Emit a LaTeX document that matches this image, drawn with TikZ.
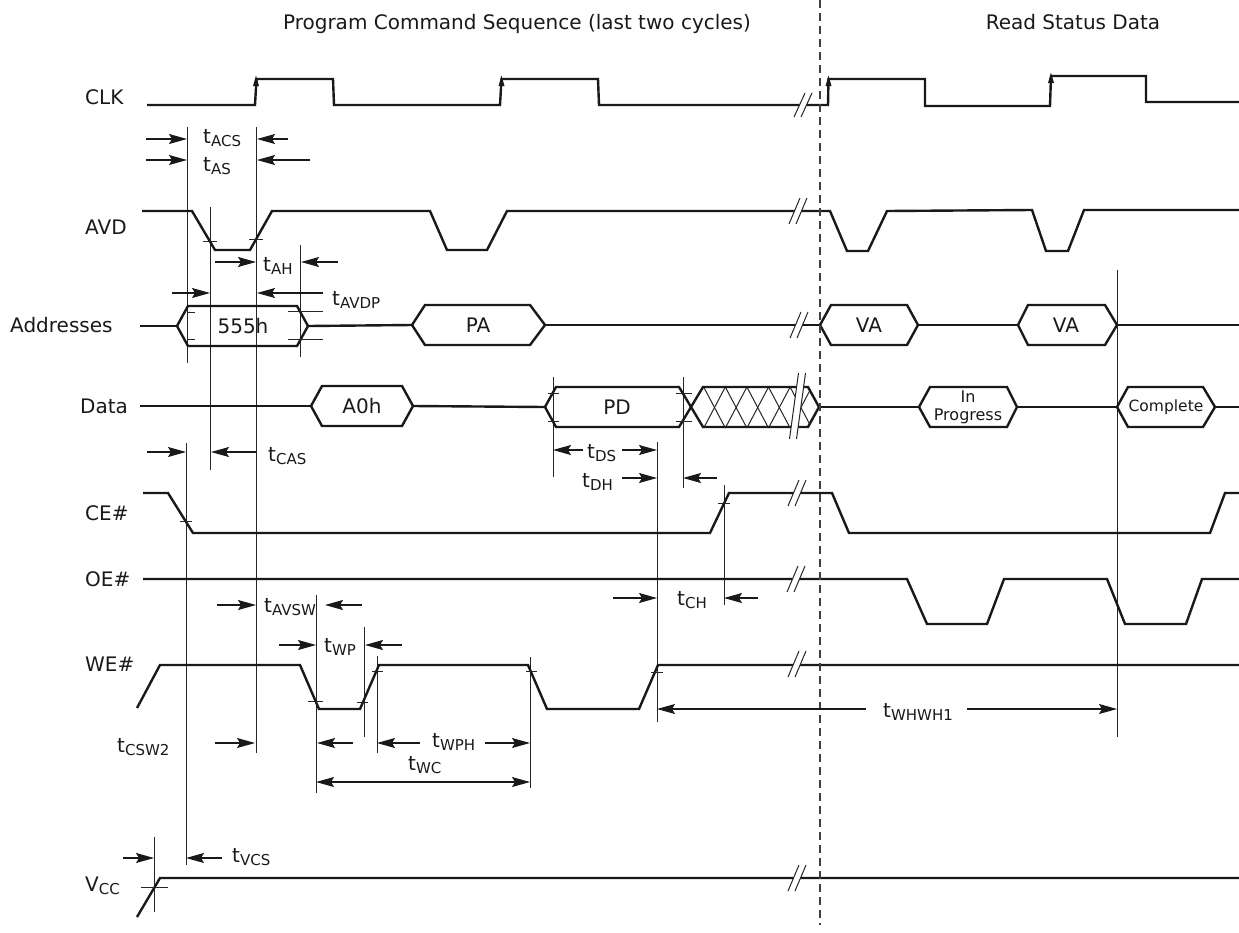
\documentclass[tikz,border=0pt]{standalone}
\usepackage{fontspec}
\setmainfont{DejaVu Sans}
\usetikzlibrary{arrows.meta}
\newcommand{\ts}[1]{t\raisebox{-3pt}{\fontsize{15}{15}\selectfont #1}}
\newcommand{\vcc}{V\raisebox{-3pt}{\fontsize{15}{15}\selectfont CC}}
\newcommand{\hexsig}[6]{\draw[sig] (#1,#5) -- (#2,#5-#6) -- (#3,#5-#6) -- (#4,#5) -- (#3,#5+#6) -- (#2,#5+#6) -- cycle;}
\newcommand{\brkmark}[4]{%
  \fill[white] (#1-3.5-#4,#2+#3) -- (#1-3.5+#4,#2-#3) -- (#1+3.5+#4,#2-#3) -- (#1+3.5-#4,#2+#3) -- cycle;
  \draw[thinln] (#1-3.5-#4,#2+#3) -- (#1-3.5+#4,#2-#3) (#1+3.5-#4,#2+#3) -- (#1+3.5+#4,#2-#3);}
\tikzset{dimtip/.tip={Stealth[length=18pt,width=10pt,inset=3pt]}}
\begin{document}
\begin{tikzpicture}[x=1pt,y=-1pt,
  sig/.style={line width=2.4pt, line join=miter, black!90},
  thinln/.style={line width=1pt, black!85},
  dim/.style={line width=1.1pt, black!90, -dimtip},
  ddim/.style={line width=1.1pt, black!90, dimtip-dimtip},
  every node/.style={inner sep=0pt, text=black!90, font=\fontsize{20}{24}\selectfont},
  lbl/.style={anchor=base west}]
\useasboundingbox (0,0) rectangle (1239,932);

% ---------- thin vertical reference lines ----------
\draw[thinln] (187,127) -- (187,363);
\draw[thinln] (186,443) -- (186,865);
\draw[thinln] (210,207) -- (210,470);
\draw[thinln] (256,127) -- (256,753);
\draw[thinln] (300,245) -- (300,357);
\draw[thinln] (553,377) -- (553,477);
\draw[thinln] (683,377) -- (683,488);
\draw[thinln] (657,442) -- (657,722);
\draw[thinln] (724,485) -- (724,605);
\draw[thinln] (316,595) -- (316,793);
\draw[thinln] (364,627) -- (364,737);
\draw[thinln] (377,656) -- (377,753);
\draw[thinln] (530,657) -- (530,788);
\draw[thinln] (1117,270) -- (1117,737);
\draw[thinln] (154,837) -- (154,912);

% ---------- hatched (don't care) region ----------
\begin{scope}
  \clip (691,407) -- (703,387) -- (808,387) -- (819,407) -- (808,428) -- (703,428) -- cycle;
  \foreach \k in {0,...,5}{
    \pgfmathsetmacro{\c}{714.5+21.6*\k}
    \draw[thinln] (\c-10.8,387) -- (\c+10.8,428);
    \draw[thinln] (\c+10.8,387) -- (\c-10.8,428);
  }
\end{scope}

% ---------- signals ----------
% CLK
\draw[sig] (147,105) -- (255,105) -- (256.5,79) -- (333,79) -- (334,105) -- (500,105) -- (501.5,79) -- (598,79) -- (599,105)
  -- (828,105) -- (828.5,79) -- (925,79) -- (925,106) -- (1050,106) -- (1051,76) -- (1146,76) -- (1146,102) -- (1239,102);
\fill[black!90] (253,86) -- (256,75.5) -- (259,86) -- cycle;
\fill[black!90] (498.5,86) -- (501.5,75.5) -- (504.5,86) -- cycle;
\fill[black!90] (825.5,86) -- (828.5,75.5) -- (831.5,86) -- cycle;
\fill[black!90] (1048,83) -- (1051,72.5) -- (1054,83) -- cycle;
% AVD
\draw[sig] (142,211) -- (192,211) -- (215,250) -- (250,250) -- (272,211) -- (430,211) -- (447,250) -- (487,250) -- (507,211)
  -- (830,211) -- (847,251) -- (868,251) -- (887,211) -- (1032,210) -- (1046,251) -- (1068,251) -- (1084,210) -- (1239,210);
% Addresses
\draw[sig] (140,326) -- (177,326);
\hexsig{177}{188}{297}{308}{326}{20}
\draw[sig] (308,326) -- (412,325);
\hexsig{412}{425}{530}{545}{325}{20}
\draw[sig] (545,325) -- (820,325);
\hexsig{820}{831}{907}{918}{325}{20}
\draw[sig] (918,325) -- (1018,325);
\hexsig{1018}{1028}{1105}{1117}{325}{20}
\draw[sig] (1117,325) -- (1239,325);
% Data
\draw[sig] (140,406) -- (311,406);
\hexsig{311}{322}{402}{413}{406}{20}
\draw[sig] (413,406) -- (545,407);
\hexsig{545}{556}{679}{691}{407}{20}
\hexsig{691}{703}{808}{819}{407}{20}
\draw[sig] (819,407) -- (919,407);
\hexsig{919}{930}{1007}{1017}{407}{20}
\draw[sig] (1017,407) -- (1117,407);
\hexsig{1117}{1128}{1203}{1215}{407}{20}
\draw[sig] (1215,407) -- (1239,407);
% CE#
\draw[sig] (143,493) -- (168,493) -- (193,533) -- (710,533) -- (729,493) -- (832,493) -- (849,533) -- (1210,533) -- (1225,493) -- (1239,493);
% OE#
\draw[sig] (143,579) -- (907,579) -- (927,624) -- (987,624) -- (1004,579) -- (1107,579) -- (1125,624) -- (1186,624) -- (1202,579) -- (1239,579);
% WE#
\draw[sig] (137,708) -- (160,665) -- (300,665) -- (319,709) -- (360,709) -- (379,665) -- (528,665) -- (547,709) -- (639,709) -- (658,665) -- (1239,665);
% VCC
\draw[sig] (137,917) -- (160,878) -- (1239,878);

% ---------- ticks ----------
\draw[thinln] (203,241) -- (217,241) (249,239) -- (263,239);
\draw[thinln] (187,312) -- (195,312) (187,339) -- (195,339) (288,311) -- (323,311) (288,339) -- (323,339);
\draw[thinln] (548,393) -- (559,393) (548,421) -- (559,421) (676,393) -- (692,393) (676,421) -- (692,421);
\draw[thinln] (180,521) -- (192,521) (718,503) -- (730,503);
\draw[thinln] (308,701) -- (323,701) (357,702) -- (368,702) (372,671) -- (383,671) (526,671) -- (537,671) (651,672) -- (663,672);
\draw[thinln] (141,887) -- (168,887);

% ---------- break marks ----------
\brkmark{803}{105}{12}{5.5}
\brkmark{798}{211}{13}{5.5}
\brkmark{799}{325}{13}{5.5}
\brkmark{797.5}{406}{33}{4.5}
\brkmark{797}{493}{13}{5.5}
\brkmark{796}{579}{13}{5.5}
\brkmark{797}{664}{13}{5.5}
\brkmark{797}{878}{13}{5.5}

% ---------- dashed separator ----------
\draw[line width=1.2pt, black!75, dash pattern=on 8pt off 5pt] (820,0) -- (820,925);

% ---------- dimension arrows ----------
\draw[dim] (146,139) -- (187,139);  \draw[dim] (288,139) -- (257,139);
\draw[dim] (146,160) -- (187,160);  \draw[dim] (310,160) -- (257,160);
\draw[dim] (215,262) -- (256,262);  \draw[dim] (338,262) -- (301,262);
\draw[dim] (172,293) -- (210,293);  \draw[dim] (323,293) -- (257,293);
\draw[dim] (147,452) -- (186,452);  \draw[dim] (256,452) -- (211,452);
\draw[dim] (583,450) -- (553,450);  \draw[dim] (622,450) -- (657,450);
\draw[dim] (622,478) -- (657,478);  \draw[dim] (717,478) -- (683,478);
\draw[dim] (613,598) -- (657,598);  \draw[dim] (758,598) -- (724,598);
\draw[dim] (217,605) -- (256,605);  \draw[dim] (362,605) -- (325,605);
\draw[dim] (279,645) -- (316,645);  \draw[dim] (402,645) -- (365,645);
\draw[dim] (215,743) -- (255,743);
\draw[dim] (353,743) -- (317,743);
\draw[dim] (420,743) -- (377,743);  \draw[dim] (485,743) -- (530,743);
\draw[ddim] (316,782) -- (530,782);
\draw[dim] (866,709) -- (657,709);  \draw[dim] (967,709) -- (1117,709);
\draw[dim] (123,858) -- (154,858);  \draw[dim] (222,858) -- (186,858);

% ---------- titles ----------
\node[anchor=base] (ttlprog) at (517,29) {Program Command Sequence (last two cycles)};
\node[anchor=base] (ttlread) at (1073,29) {Read Status Data};

% ---------- signal names ----------
\node[lbl] (nclk) at (85,104) {CLK};
\node[lbl] (navd) at (85,234) {AVD};
\node[lbl] (naddr) at (10,332) {Addresses};
\node[lbl] (ndata) at (80,413) {Data};
\node[lbl] (nce) at (85,520) {CE\#};
\node[lbl] (noe) at (85,586) {OE\#};
\node[lbl] (nwe) at (85,671) {WE\#};
\node[lbl] (nvcc) at (85,891) {\vcc};

% ---------- bus values ----------
\node (v555) at (243,326) {555h};
\node (vpa) at (478,325) {PA};
\node (vva1) at (869,325) {VA};
\node (vva2) at (1066,325) {VA};
\node (va0) at (362,406) {A0h};
\node (vpd) at (617,407) {PD};
\node[align=center, font=\fontsize{16}{18}\selectfont] (vprog) at (968,407) {In\\Progress};
\node[font=\fontsize{15.5}{18}\selectfont] (vcomp) at (1166,407) {Complete};

% ---------- timing labels ----------
\node[lbl] (tacs) at (203,143) {\ts{ACS}};
\node[lbl] (tas) at (203,171) {\ts{AS}};
\node[lbl] (tah) at (263,271) {\ts{AH}};
\node[lbl] (tavdp) at (332,305) {\ts{AVDP}};
\node[lbl] (tcas) at (268,461) {\ts{CAS}};
\node[lbl] (tds) at (587,458) {\ts{DS}};
\node[lbl] (tdh) at (582,487) {\ts{DH}};
\node[lbl] (tch) at (677,605) {\ts{CH}};
\node[lbl] (tavsw) at (264,612) {\ts{AVSW}};
\node[lbl] (twp) at (324,652) {\ts{WP}};
\node[lbl] (tcsw) at (117,752) {\ts{CSW2}};
\node[lbl] (twph) at (432,747) {\ts{WPH}};
\node[lbl] (twc) at (408,770) {\ts{WC}};
\node[lbl] (twhwh) at (883,717) {\ts{WHWH1}};
\node[lbl] (tvcs) at (232,862) {\ts{VCS}};
\end{tikzpicture}
\end{document}
